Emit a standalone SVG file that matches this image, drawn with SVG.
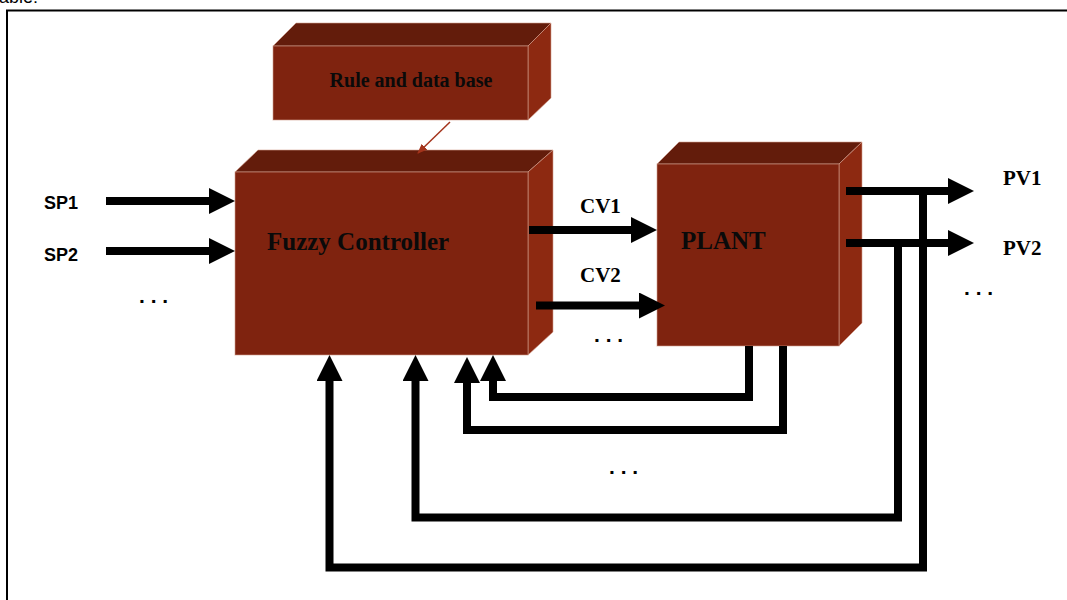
<svg xmlns="http://www.w3.org/2000/svg" width="1067" height="600" viewBox="0 0 1067 600">
<defs>
<style>
.front{fill:#7F230F;stroke:#d4a090;stroke-width:1;stroke-opacity:0.6}
.top{fill:#631C0B;stroke:#d4a090;stroke-width:1;stroke-opacity:0.6}
.side{fill:#8D2911;stroke:#d4a090;stroke-width:1;stroke-opacity:0.6}
.box-label{font-family:"Liberation Serif","Times New Roman",serif;font-weight:bold;fill:#0a0a0a}
.sig{font-family:"Liberation Serif","Times New Roman",serif;font-weight:bold;font-size:21px;fill:#000}
.sp{font-family:"Liberation Sans",Arial,sans-serif;font-weight:bold;font-size:18px;fill:#000}
.dots{font-family:"Liberation Sans",Arial,sans-serif;font-weight:bold;font-size:21px;fill:#000}
.wire{fill:none;stroke:#000;stroke-width:8;stroke-linejoin:miter;stroke-linecap:butt}
</style>
<marker id="ah" viewBox="0 0 26 26" markerWidth="26" markerHeight="26" refX="1" refY="13" orient="auto" markerUnits="userSpaceOnUse">
<path d="M0,0 L26,13 L0,26 Z" fill="#000"/>
</marker>
<marker id="ahs" viewBox="0 0 10 8" markerWidth="10" markerHeight="8" refX="9" refY="4" orient="auto" markerUnits="userSpaceOnUse">
<path d="M0,0 L10,4 L0,8 Z" fill="#A3331B"/>
</marker>
</defs>
<rect width="1067" height="600" fill="#fff"/>
<text x="-1" y="3" font-family="Liberation Sans, Arial, sans-serif" font-size="18" fill="#000">able:</text>
<rect x="7" y="10.5" width="1100" height="700" fill="none" stroke="#000" stroke-width="2"/>

<g id="rule-base">
<polygon class="top" points="273,46 296,23 551,23 528,46"/>
<polygon class="side" points="528,46 551,23 551,98 528,120"/>
<rect class="front" x="273" y="46" width="255" height="74"/>
<text class="box-label" x="411" y="87" font-size="20" text-anchor="middle">Rule and data base</text>
</g>

<g id="fuzzy-controller">
<polygon class="top" points="235,172 258,150 553,150 528,172"/>
<polygon class="side" points="528,172 553,150 553,332 528,355"/>
<rect class="front" x="235" y="172" width="293" height="183"/>
<text class="box-label" x="267" y="250" font-size="25">Fuzzy Controller</text>
</g>

<g id="plant">
<polygon class="top" points="657,164 679,142 862,142 839,164"/>
<polygon class="side" points="839,164 862,142 862,323 839,346"/>
<rect class="front" x="657" y="164" width="182" height="182"/>
<text class="box-label" x="681" y="249" font-size="25">PLANT</text>
</g>

<g id="connectors">
<line x1="450" y1="122" x2="418" y2="153" stroke="#A3331B" stroke-width="1.5" marker-end="url(#ahs)"/>
<path class="wire" d="M106,201 H210" marker-end="url(#ah)"/>
<path class="wire" d="M106,251 H210" marker-end="url(#ah)"/>
<path class="wire" d="M529,230 H632" marker-end="url(#ah)"/>
<path class="wire" d="M536,305.5 H640" marker-end="url(#ah)"/>
<path class="wire" d="M846,191 H949" marker-end="url(#ah)"/>
<path class="wire" d="M846,243 H949" marker-end="url(#ah)"/>
<path class="wire" d="M923,191 V567.5 H329.5 V380" marker-end="url(#ah)"/>
<path class="wire" d="M898,243 V517.5 H415.5 V380" marker-end="url(#ah)"/>
<path class="wire" d="M783,346 V430 H467 V382" marker-end="url(#ah)"/>
<path class="wire" d="M749,346 V397 H493 V380" marker-end="url(#ah)"/>
</g>

<g id="labels">
<text class="sp" x="44" y="209">SP1</text>
<text class="sp" x="44" y="261">SP2</text>
<text class="sig" x="580" y="213">CV1</text>
<text class="sig" x="580" y="282">CV2</text>
<text class="sig" x="1003" y="185">PV1</text>
<text class="sig" x="1003" y="255">PV2</text>
<text class="dots" x="139" y="303">. . .</text>
<text class="dots" x="594" y="342">. . .</text>
<text class="dots" x="609" y="474">. . .</text>
<text class="dots" x="964" y="295">. . .</text>
</g>
</svg>
